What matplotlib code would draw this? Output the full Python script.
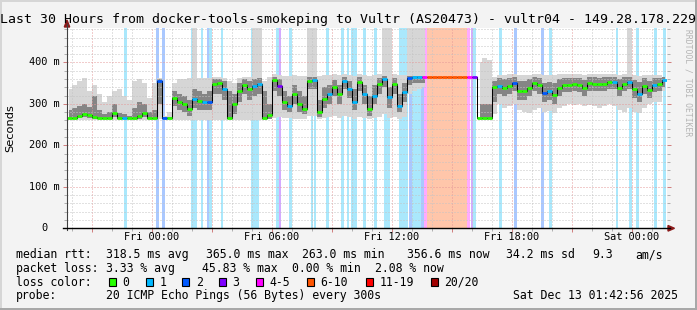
import numpy as np
import pandas as pd
import matplotlib
matplotlib.use("Agg")
import matplotlib.pyplot as plt
import matplotlib.dates as mdates
from matplotlib.ticker import MultipleLocator
from matplotlib.patches import Polygon, Rectangle
from matplotlib.lines import Line2D

W, H = 697, 310
MONO = "DejaVu Sans Mono"

title = "Last 30 Hours from docker-tools-smokeping to Vultr (AS20473) - vultr04 - 149.28.178.229"

# time axis: 15 minute bins over the last 30 hours
t_start = pd.Timestamp("2025-12-11 19:46")
t_end = pd.Timestamp("2025-12-13 01:46")
t_fri = pd.Timestamp("2025-12-12 00:00")
times = pd.date_range("2025-12-11 19:53:30", periods=120, freq="15min")

# median rtt per bin (ms)
median = [265, 267, 271, 275, 273, 269, 265, 265, 267, 278,
          265, 265, 265, 265, 271, 279, 267, 265, 356, 265,
          265, 315, 305, 300, 288, 312, 308, 305, 305, 348,
          350, 335, 265, 300, 330, 345, 335, 343, 347, 267,
          273, 358, 343, 304, 296, 324, 300, 288, 356, 358,
          280, 312, 324, 341, 324, 356, 336, 304, 352, 325,
          288, 320, 348, 360, 316, 348, 296, 328, 362, 364,
          364, 364, 365, 364, 365, 365, 365, 364, 365, 365,
          365, 364, 265, 265, 266, 340, 344, 338, 344, 350,
          330, 330, 338, 350, 346, 326, 330, 321, 338, 346,
          346, 347, 345, 338, 350, 349, 348, 349, 352, 353,
          338, 348, 353, 336, 324, 344, 333, 346, 348, 357]

nan = np.nan
# outer smoke envelope (ms), 483 = off the top of the graph
smoke_hi = [335, 345, 355, 362, 330, 345, 325, 305, 320, 330,
            335, 320, 310, 355, 360, 350, 315, 350, 362, 272,
            280, 350, 360, 360, 362, 483, 362, 362, 362, 364,
            364, 362, 355, 350, 362, 365, 364, 483, 483, 355,
            365, 372, 370, 368, 368, 370, 368, 368, 483, 483,
            368, 370, 370, 372, 370, 372, 370, 368, 372, 370,
            368, 370, 372, 483, 483, 372, 370, 370, 483, 483,
            483, 483, nan, nan, nan, nan, nan, nan, nan, nan,
            nan, nan, 400, 410, 405, 366, 370, 370, 372, 372,
            370, 370, 370, 372, 372, 370, 370, 370, 372, 372,
            372, 372, 372, 370, 372, 372, 372, 372, 372, 372,
            370, 372, 483, 370, 368, 370, 370, 370, 370, 366]
smoke_lo = [262, 262, 262, 262, 262, 262, 262, 262, 262, 262,
            262, 262, 262, 262, 262, 262, 262, 262, 264, 262,
            262, 262, 262, 262, 262, 262, 262, 262, 262, 262,
            262, 262, 262, 262, 262, 262, 262, 262, 262, 262,
            263, 265, 268, 265, 265, 263, 263, 263, 270, 272,
            263, 266, 268, 270, 266, 270, 268, 263, 268, 265,
            263, 265, 268, 275, 265, 268, 263, 268, 325, 330,
            335, 340, nan, nan, nan, nan, nan, nan, nan, nan,
            nan, nan, 262, 262, 262, 275, 300, 290, 295, 300,
            285, 280, 278, 285, 290, 280, 282, 278, 290, 295,
            300, 298, 300, 295, 298, 295, 290, 295, 300, 295,
            285, 280, 290, 280, 278, 290, 300, 305, 305, 330]
# dense core of the smoke (ms)
core_hi = [285, 290, 295, 300, 292, 320, 285, 275, 280, 300,
           278, 275, 272, 290, 305, 300, 280, 285, 360, 268,
           268, 330, 325, 320, 310, 335, 330, 325, 330, 360,
           360, 355, 330, 325, 350, 360, 355, 360, 362, 330,
           300, 365, 360, 330, 320, 345, 330, 320, 365, 366,
           310, 340, 345, 358, 345, 364, 355, 335, 364, 345,
           320, 345, 362, 368, 340, 362, 325, 350, 368, 368,
           368, 368, nan, nan, nan, nan, nan, nan, nan, nan,
           nan, nan, 300, 300, 300, 355, 362, 360, 362, 364,
           355, 355, 360, 364, 362, 350, 352, 350, 360, 362,
           362, 362, 362, 358, 364, 364, 363, 364, 365, 365,
           360, 364, 366, 358, 352, 362, 356, 362, 362, 364]
core_lo = [263, 263, 265, 268, 266, 263, 263, 263, 263, 268,
           263, 263, 263, 263, 263, 268, 263, 263, 300, 263,
           263, 295, 285, 280, 270, 290, 285, 285, 285, 325,
           325, 310, 263, 275, 305, 325, 310, 320, 325, 263,
           263, 330, 320, 285, 280, 300, 280, 275, 335, 335,
           268, 290, 300, 320, 300, 335, 315, 285, 330, 300,
           272, 300, 325, 340, 290, 325, 280, 305, 345, 350,
           350, 350, nan, nan, nan, nan, nan, nan, nan, nan,
           nan, nan, 263, 263, 263, 305, 325, 320, 325, 330,
           310, 310, 320, 330, 325, 305, 310, 300, 320, 328,
           328, 330, 328, 320, 332, 330, 330, 330, 335, 335,
           318, 330, 335, 315, 305, 325, 315, 328, 330, 340]

# packet loss events: hours after Fri 00:00 and lost pings (of 20)
loss_t = [-1.31, 0.29, 0.59, 2.03, 2.18, 2.52, 2.82, 2.93, 3.52, 5.03,
          5.17, 5.30, 6.28, 6.42, 6.93, 8.02, 8.17, 8.78, 9.55, 9.82,
          10.03, 10.18, 10.63, 11.18, 11.68, 11.83, 12.45, 12.60, 12.75, 12.95,
          13.10, 13.24, 13.38, 13.55, 13.69, 15.85, 16.02, 16.13, 17.43, 18.18,
          19.55, 19.93, 23.26, 23.93, 24.28, 25.18, 25.64]
loss_n = [1, 2, 2, 1, 1, 1, 2, 1, 1, 1,
          1, 1, 1, 3, 1, 1, 1, 1, 1, 1,
          1, 1, 1, 1, 1, 1, 1, 1, 1, 2,
          1, 1, 1, 2, 4, 4, 3, 1, 1, 2,
          2, 1, 1, 1, 1, 1, 1]
# long outage with 6-10 lost
span_t0, span_t1, span_n = 13.76, 15.76, 8

legend_labels = ["0", "1", "2", "3", "4-5", "6-10", "11-19", "20/20"]
legend_colors = ["#26ff00", "#00b8ff", "#0059ff", "#7e00ff", "#ff00ff", "#ff5500", "#ff0000", "#a10000"]
bg_colors = ["#ffffff", "#aae8fc", "#aac8ff", "#d4aaff", "#ffaaff", "#ffc6aa", "#ffaaaa", "#e0aaaa"]


def cat(n):
    if n <= 3:
        return n
    if n <= 5:
        return 4
    if n <= 10:
        return 5
    if n <= 19:
        return 6
    return 7


def fx(x):
    return x / W


def fy(y):
    return 1 - y / H


x = mdates.date2num(times.to_pydatetime())
fri = mdates.date2num(t_fri.to_pydatetime())
ev = fri + np.array(loss_t) / 24
half = 7.5 / 1440

fig = plt.figure(figsize=(W / 100, H / 100), dpi=100, facecolor="#f3f3f3")
ax = fig.add_axes([fx(67), fy(228.3), 600 / W, 200.3 / H])
ax.set_facecolor("white")

# loss background bars
bw = 8 / 1440
for t, n in zip(ev, loss_n):
    ax.axvspan(t - bw / 2, t + bw / 2, color=bg_colors[cat(n)], lw=0, zorder=1)
ax.axvspan(fri + span_t0 / 24, fri + span_t1 / 24, color=bg_colors[cat(span_n)], lw=0, zorder=1)

# smoke
ax.fill_between(x, smoke_lo, smoke_hi, step="mid", color="#d6d6d6", lw=0, zorder=2)
ax.fill_between(x, core_lo, core_hi, step="mid", color="#858585", lw=0, zorder=2.1)

# median line coloured by loss
ax.step(x, median, where="mid", color="black", lw=0.75, zorder=3)
seg_colors = []
for xi in x:
    n = 0
    for t, ln in zip(ev, loss_n):
        if xi - half <= t < xi + half:
            n = max(n, ln)
    if fri + span_t0 / 24 <= xi < fri + span_t1 / 24:
        n = max(n, span_n)
    seg_colors.append(legend_colors[cat(n)])
ax.hlines(median, x - half, x + half, colors=seg_colors, lw=2.0, zorder=3.1)

ax.set_xlim(mdates.date2num(t_start.to_pydatetime()), mdates.date2num(t_end.to_pydatetime()))
ax.set_ylim(0, 483)
ax.yaxis.set_major_locator(MultipleLocator(100))
ax.yaxis.set_minor_locator(MultipleLocator(20))
ax.xaxis.set_major_locator(mdates.HourLocator(byhour=range(0, 24, 3)))
ax.xaxis.set_minor_locator(mdates.HourLocator())
ax.set_axisbelow(False)
ax.grid(which="major", color="#e49a9a", lw=0.72, ls=(0, (1, 2)))
ax.grid(which="minor", color="#c4c4c4", lw=0.72, ls=(0, (1, 2)))
ax.tick_params(which="both", direction="out", right=True, labelleft=False, labelbottom=False, width=0.72)
ax.tick_params(which="major", length=3, color="#d08080")
ax.tick_params(which="minor", length=2.5, color="#b0b0b0")
for s in ax.spines.values():
    s.set_visible(False)

# axis lines with arrows
fig.add_artist(Line2D([fx(67), fx(67)], [fy(230), fy(24)], color="#404040", lw=0.8, transform=fig.transFigure))
fig.add_artist(Line2D([fx(63), fx(670)], [fy(228.3), fy(228.3)], color="black", lw=1.0, transform=fig.transFigure))
fig.add_artist(Polygon([(fx(64.3), fy(27)), (fx(69.7), fy(27)), (fx(67), fy(20))], closed=True,
                       color="#8b1a1a", transform=fig.transFigure))
fig.add_artist(Polygon([(fx(668), fy(225.5)), (fx(668), fy(231.1)), (fx(674.5), fy(228.3))], closed=True,
                       color="#8b1a1a", transform=fig.transFigure))

# tick labels
ytick_vals = [0, 100, 200, 300, 400]
ytick_labels = ["0", "100 m", "200 m", "300 m", "400 m"]
for v, lab in zip(ytick_vals, ytick_labels):
    xr = -7 / 600 if v else -19.3 / 600
    ax.text(xr, v, lab, transform=ax.get_yaxis_transform(), ha="right", va="center",
            family=MONO, size=7.4)
xtick_times = ["2025-12-12 00:00", "2025-12-12 06:00", "2025-12-12 12:00", "2025-12-12 18:00", "2025-12-13 00:00"]
for ts in xtick_times:
    t = pd.Timestamp(ts)
    ax.text(mdates.date2num(t.to_pydatetime()), -11.7 / 200.3, t.strftime("%a %H:%M"),
            transform=ax.get_xaxis_transform(), ha="center", va="baseline", family=MONO, size=7.4)

fig.text(fx(10.5), fy(128), "Seconds", rotation=90, ha="center", va="center", family="DejaVu Sans", size=8.2)
fig.text(fx(348.5), fy(23.5), title, ha="center", va="baseline", family=MONO, size=9.55)
fig.text(fx(688), fy(29), "RRDTOOL / TOBI OETIKER", rotation=270, ha="center", va="top",
         family=MONO, size=5.8, color="#b4b4b4")

# legend block
LS = 8.3
rows = [
    (258, [(16, "median rtt:"), (107, "318.5 ms avg"), (207, "365.0 ms max"), (302.7, "263.0 ms min"),
           (407.3, "356.6 ms now"), (506.7, "34.2 ms sd"), (593, "9.3"), (636, "am/s")]),
    (271.8, [(16, "packet loss:"), (107, "3.33 % avg"), (203, "45.83 % max"), (293, "0.00 % min"),
             (375, "2.08 % now")]),
    (285.6, [(16, "loss color:")]),
    (299.4, [(16, "probe:"), (107, "20 ICMP Echo Pings (56 Bytes) every 300s"), (513.3, "Sat Dec 13 01:42:56 2025")]),
]
for yb, items in rows:
    for xs, s in items:
        fig.text(fx(xs - 0.5), fy(yb), s, ha="left", va="baseline", family=MONO, size=LS)
box_x = [109, 145.7, 182.3, 219, 256, 306.7, 365.7, 431]
for bx, lab, c in zip(box_x, legend_labels, legend_colors):
    fig.add_artist(Rectangle((fx(bx), fy(286)), 7 / W, 7.6 / H, facecolor=c, edgecolor="black",
                             lw=0.8, transform=fig.transFigure))
    fig.text(fx(bx + 13.5), fy(285.6), lab, ha="left", va="baseline", family=MONO, size=LS)

# frame
fig.add_artist(Rectangle((0, fy(2)), 1, 2 / H, color="#d6d6d6", lw=0, transform=fig.transFigure))
fig.add_artist(Rectangle((0, 0), 2 / W, 1, color="#d6d6d6", lw=0, transform=fig.transFigure))
fig.add_artist(Rectangle((0, 0), 1, 2.5 / H, color="#a8a8a8", lw=0, transform=fig.transFigure))
fig.add_artist(Rectangle((fx(694.5), 0), 2.5 / W, 1, color="#a8a8a8", lw=0, transform=fig.transFigure))

fig.savefig("out.png", dpi=100, facecolor=fig.get_facecolor())
